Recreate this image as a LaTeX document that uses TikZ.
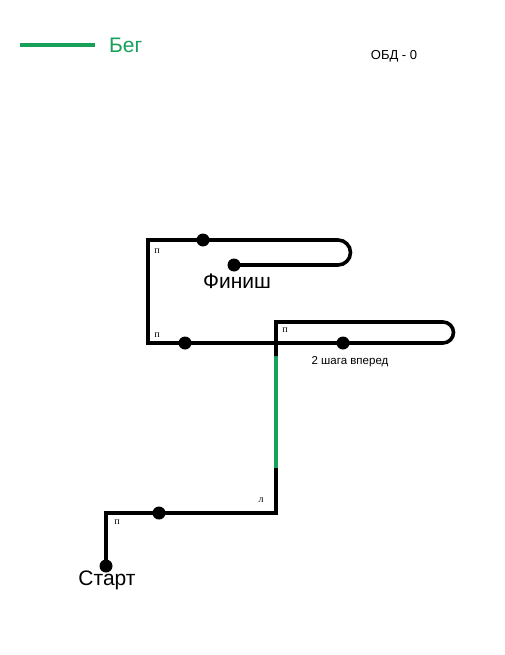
\documentclass[tikz,border=0pt]{standalone}
\usepackage{fontspec}
\setmainfont{Liberation Sans}
\newfontfamily\serifsmall{Liberation Serif}
\definecolor{rungreen}{RGB}{22,160,90}
\begin{document}
\begin{tikzpicture}[x=1pt,y=-1pt,
  trk/.style={line width=3.6pt,line join=miter,black},
  run/.style={line width=3.6pt,rungreen},
  dotm/.style={circle,fill=black,inner sep=0pt,minimum size=13pt},
  foot/.style={font=\serifsmall\fontsize{10}{10}\selectfont,inner sep=0pt},
  lbl/.style={inner sep=0pt}]
\useasboundingbox (0,0) rectangle (505,655);
% legend
\coordinate (lg1) at (20,45);
\coordinate (lg2) at (95,45);
\draw[run] (lg1) -- (lg2);
\node[lbl,anchor=west,text=rungreen,font=\fontsize{21}{21}\selectfont] (leg) at (109,45) {Бег};
\node[lbl,font=\fontsize{13}{13}\selectfont] (obd) at (394,56) {ОБД - 0};
% coordinates
\coordinate (s) at (106,566);
\coordinate (c1) at (106,513);
\coordinate (c2) at (276,513);
\coordinate (g1) at (276,468);
\coordinate (g2) at (276,356);
\coordinate (c3) at (276,322);
\coordinate (c4) at (443,322);
\coordinate (c5) at (443,343);
\coordinate (c6) at (148,343);
\coordinate (c7) at (148,240);
\coordinate (c8) at (338,240);
\coordinate (c9) at (338,265);
\coordinate (f) at (234,265);
% track
\draw[trk] (s) -- (c1) -- (c2) -- (g1);
\draw[run] (g1) -- (g2);
\draw[trk] (g2) -- (c3) -- (c4) arc[start angle=-90,end angle=90,radius=10.5] -- (c6) -- (c7) -- (c8) arc[start angle=-90,end angle=90,radius=12.5] -- (f);
% dots
\node[dotm] (ds) at (s) {};
\node[dotm] (d1) at (159,513) {};
\node[dotm] (d2) at (343,343) {};
\node[dotm] (d3) at (185,343) {};
\node[dotm] (d4) at (203,240) {};
\node[dotm] (df) at (f) {};
% foot labels
\node[foot] (p1) at (117,522) {п};
\node[foot] (l1) at (261,500) {л};
\node[foot] (p2) at (285,330) {п};
\node[foot] (p3) at (157,335) {п};
\node[foot] (p4) at (157,251) {п};
% texts
\node[lbl,font=\fontsize{21}{21}\selectfont] (start) at (107,580) {Старт};
\node[lbl,font=\fontsize{21}{21}\selectfont] (fin) at (237,281) {Финиш};
\node[lbl,font=\fontsize{11.5}{11.5}\selectfont] (step2) at (350,362) {2 шага вперед};
\end{tikzpicture}
\end{document}
